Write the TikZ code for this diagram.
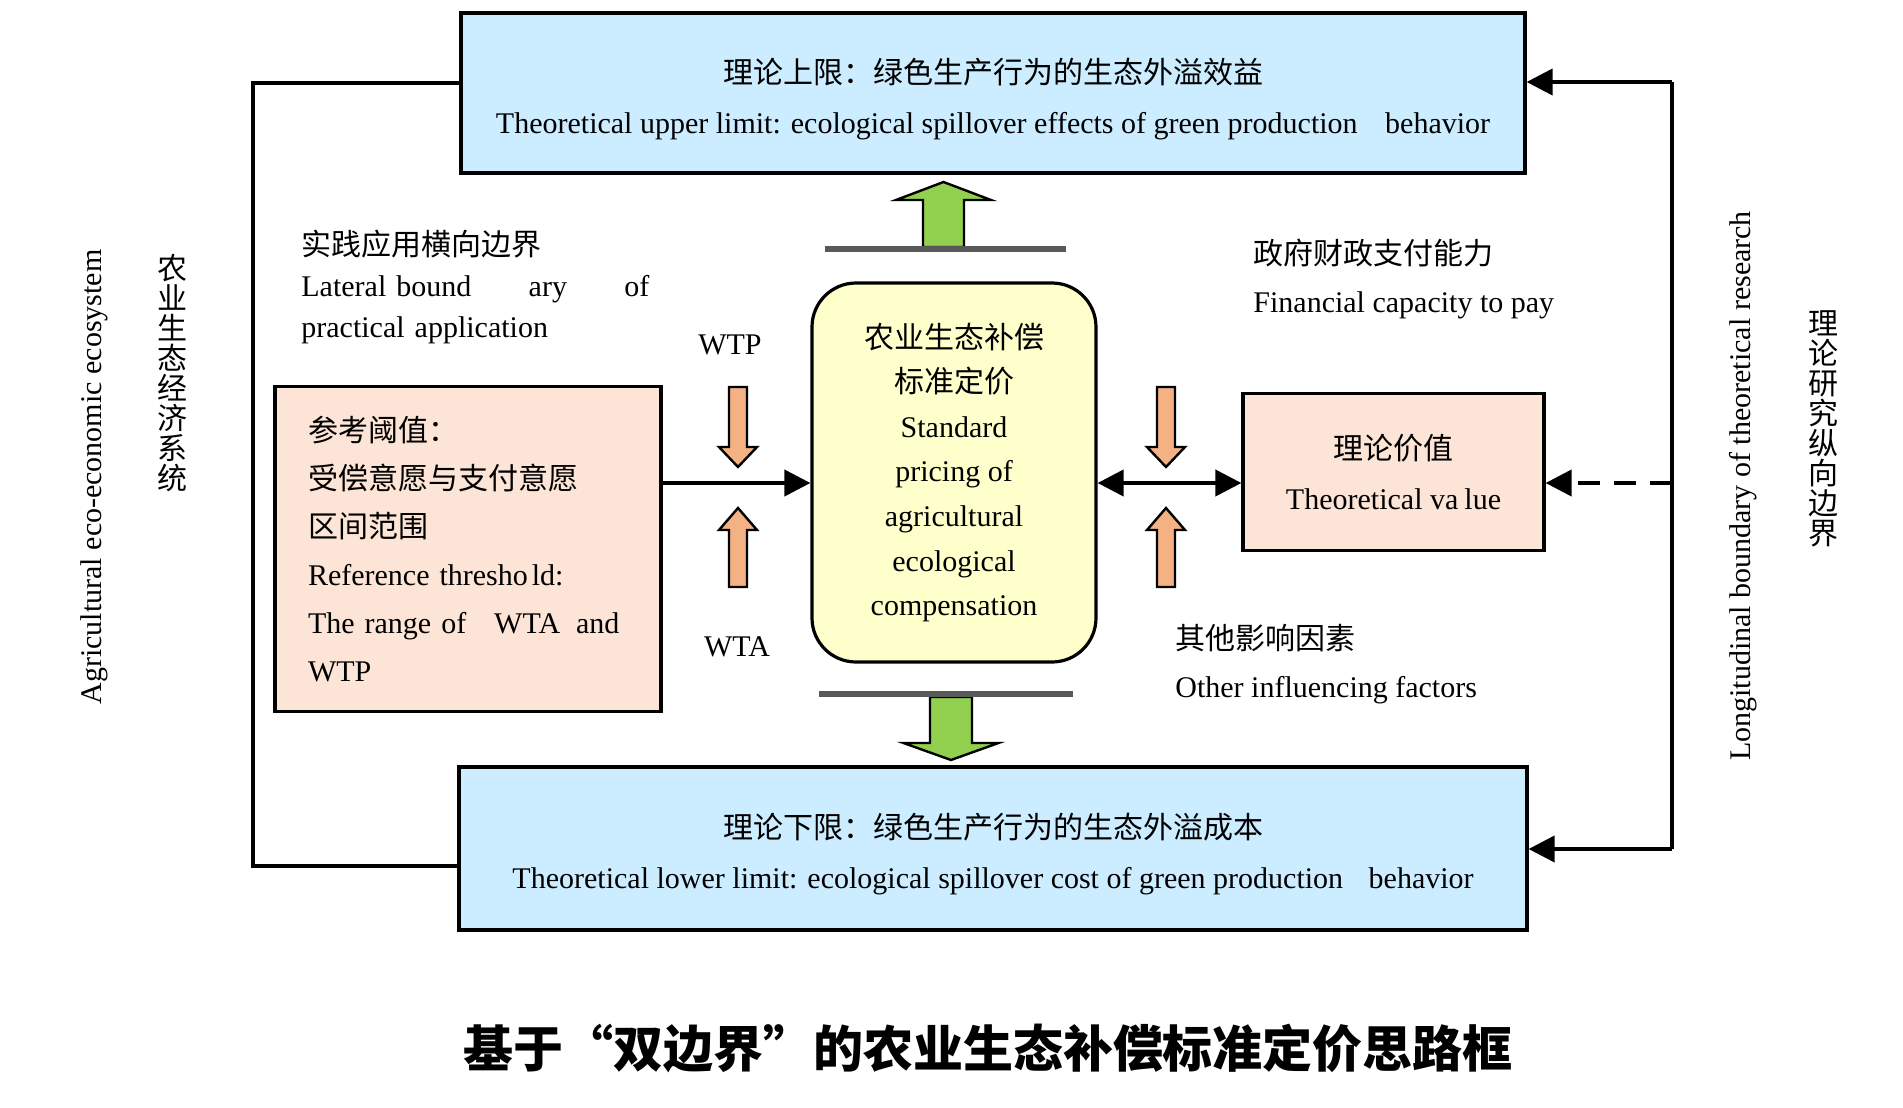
\documentclass[tikz,border=0pt]{standalone}
\usepackage{fontspec}
\setmainfont{Liberation Serif}
\newfontfamily\cjk{Noto Sans CJK SC}
\usetikzlibrary{arrows.meta,positioning}
\definecolor{limitblue}{RGB}{204,236,255}
\definecolor{peach}{RGB}{252,228,214}
\definecolor{coreyellow}{RGB}{255,255,204}
\definecolor{blockorange}{RGB}{244,177,131}
\definecolor{blockgreen}{RGB}{146,208,80}
\definecolor{bargray}{RGB}{89,89,89}
\newcommand{\zh}[1]{{\cjk #1}}
\tikzset{
  txt/.style={font=\fontsize{15}{24}\selectfont, inner sep=0pt},
  limitbox/.style={draw, line width=1.6pt, fill=limitblue},
  peachbox/.style={draw, line width=1.6pt, fill=peach},
  corebox/.style={draw, line width=1.6pt, fill=coreyellow, rounded corners=22pt, align=center},
  link/.style={line width=2pt, -{Triangle[length=13pt,width=13pt]}},
  twolink/.style={line width=2pt, {Triangle[length=13pt,width=13pt]}-{Triangle[length=13pt,width=13pt]}},
  dashlink/.style={link, dash pattern=on 11pt off 7pt},
  frameline/.style={line width=2pt},
  orangeblock/.style={draw, line width=1.2pt, fill=blockorange},
  greenblock/.style={draw, line width=1.2pt, fill=blockgreen},
  bar/.style={line width=3pt, draw=bargray},
  stack/.style={align=center, inner sep=0pt, font=\cjk\fontsize{15}{15}\selectfont}
}

\begin{document}
\begin{tikzpicture}[x=0.5pt,y=-0.5pt]
    \useasboundingbox (0,0) rectangle (1903,1108);

    % limits
    \node[limitbox, minimum width=532pt, minimum height=80pt] (upper) at (993,93) {};
    \node[txt, align=center, font=\fontsize{15}{25}\selectfont] (upper text) at (upper.center) [yshift=-3pt]
        {\zh{理论上限：绿色生产行为的生态外溢效益}\\Theoretical upper limit: ecological spillover effects of green production\hspace{10pt} behavior};
    \node[limitbox, minimum width=534pt, minimum height=81.5pt] (lower) at (993,848.5) {};
    \node[txt, align=center, font=\fontsize{15}{25}\selectfont] (lower text) at (lower.center) [yshift=-3pt]
        {\zh{理论下限：绿色生产行为的生态外溢成本}\\Theoretical lower limit: ecological spillover cost of green production\hspace{9pt} behavior};

    % middle row
    \node[peachbox, minimum width=192.5pt, minimum height=162.5pt, text width=160pt, inner xsep=16.5pt, align=left,
          font=\fontsize{15}{24}\selectfont] (ref) at (468,549)
        {\zh{参考阈值：}\\\zh{受偿意愿与支付意愿}\\\zh{区间范围}\\Reference thresho\hspace{2pt}ld:\\The range of\hspace{9pt} WTA\hspace{3pt} and\\WTP};
    \node[corebox, minimum width=142pt, minimum height=189.5pt, font=\fontsize{15}{22.3}\selectfont] (core) at (954,472.5)
        {\zh{农业生态补偿}\\\zh{标准定价}\\Standard\\pricing of\\agricultural\\ecological\\compensation};
    \node[peachbox, minimum width=150.5pt, minimum height=78.5pt, align=center, font=\fontsize{15}{25}\selectfont] (value) at (1393.5,472)
        {\zh{理论价值}\\Theoretical va\hspace{3pt}lue};

    \coordinate (mid) at (0,483);
    \draw[link] (ref.east |- mid) -- (core.west |- mid);
    \draw[twolink] (core.east |- mid) -- (value.west |- mid);

    % frame
    \coordinate (lf top) at (253,83);
    \coordinate (lf bot) at (253,866);
    \draw[frameline] (upper.west |- lf top) -- (lf top) -- (lf bot) -- (lower.west |- lf bot);
    \coordinate (rf top) at (1672,82);
    \coordinate (rf bot) at (1672,849);
    \draw[frameline] (rf top) -- (rf bot);
    \draw[link] (rf top) -- (upper.east |- rf top);
    \draw[link] (rf bot) -- (lower.east |- rf bot);
    \draw[dashlink] (rf top |- mid) -- (value.east |- mid);

    % block arrows
    \draw[orangeblock] (738,387) ++(-9,0) -- ++(18,0) -- ++(0,60) -- ++(10,0) -- ++(-19,20) -- ++(-19,-20) -- ++(10,0) -- cycle;
    \draw[orangeblock] (738,587) ++(-9,0) -- ++(18,0) -- ++(0,-57) -- ++(10,0) -- ++(-19,-22) -- ++(-19,22) -- ++(10,0) -- cycle;
    \draw[orangeblock] (1166,387) ++(-9,0) -- ++(18,0) -- ++(0,60) -- ++(10,0) -- ++(-19,20) -- ++(-19,-20) -- ++(10,0) -- cycle;
    \draw[orangeblock] (1166,587) ++(-9,0) -- ++(18,0) -- ++(0,-57) -- ++(10,0) -- ++(-19,-22) -- ++(-19,22) -- ++(10,0) -- cycle;
    \draw[greenblock] (943.5,247) ++(-20.5,0) -- ++(0,-47) -- ++(-27,0) -- ++(47.5,-18) -- ++(47.5,18) -- ++(-27,0) -- ++(0,47) -- cycle;
    \draw[greenblock] (951,697) ++(-21,0) -- ++(0,46) -- ++(-26.5,0) -- ++(47.5,17) -- ++(47.5,-17) -- ++(-26.5,0) -- ++(0,-46) -- cycle;
    \draw[bar] (825,249) -- (1066,249);
    \draw[bar] (819,694) -- (1073,694);

    % labels
    \node[txt, anchor=west, text width=174pt, align=left, font=\fontsize{15}{20.5}\selectfont] (lateral) at (301,287)
        {\zh{实践应用横向边界}\\Lateral bound\hfill ary\hfill of\\practical application};
    \node[txt] (wtp) at (730,345) {WTP};
    \node[txt] (wta) at (737,647) {WTA};
    \node[txt, anchor=west, align=left] (finance) at (1253,279) {\zh{政府财政支付能力}\\Financial capacity to pay};
    \node[txt, anchor=west, align=left] (others) at (1175,664) {\zh{其他影响因素}\\Other influencing factors};

    \node[txt, rotate=90] (agri en) at (94,477) {Agricultural eco-economic ecosystem};
    \node[stack] (agri zh) at (172,373) {农\\业\\生\\态\\经\\济\\系\\统};
    \node[txt, rotate=90] (theory en) at (1743,486) {Longitudinal boundary of theoretical research};
    \node[stack] (theory zh) at (1823,429) {理\\论\\研\\究\\纵\\向\\边\\界};

    \node[font=\cjk\bfseries\fontsize{25}{25}\selectfont] (title) at (988,1048) {基于“双边界”的农业生态补偿标准定价思路框};
\end{tikzpicture}
\end{document}
